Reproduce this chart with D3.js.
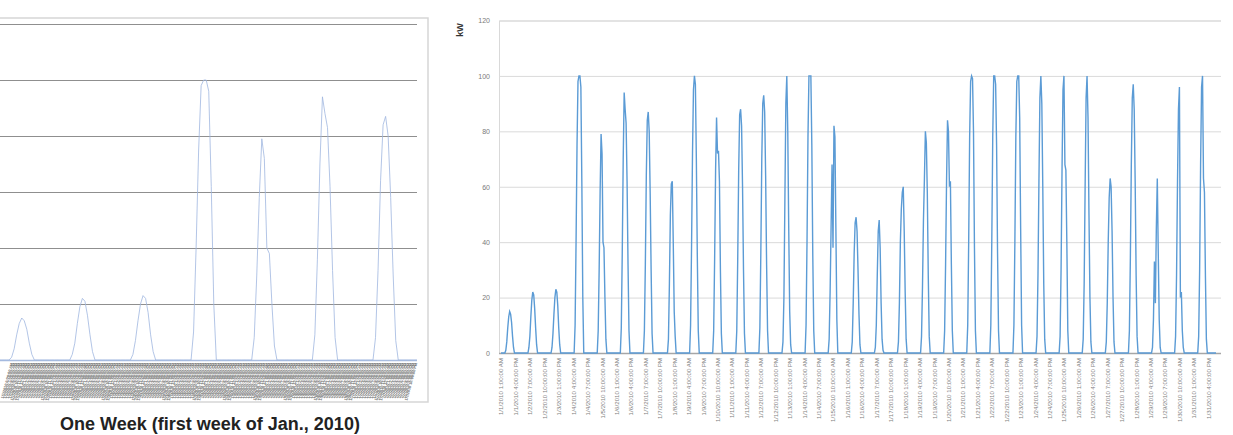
<html>
<head>
  <meta charset="UTF-8">
  <title>Solar output, January 2010</title>
  <script src="https://cdnjs.cloudflare.com/ajax/libs/d3/7.8.5/d3.min.js"></script>
</head>
<style>
body { margin: 0; background: #fff; }
text { font-family: 'Liberation Sans', Arial, sans-serif; }
</style>
<body>
<script>

// hourly output for each day of Jan 2010, daylight hours only
// (first value of each row sits at hour index day*24 + daylightOffset, night hours are 0)
var dayCurves = [
  [0, 1, 4, 9, 13, 15, 14, 11, 6, 2, 0],
  [0, 2, 6, 13, 19, 22, 21, 16, 9, 3, 0],
  [0, 2, 7, 14, 20, 23, 22, 17, 9, 3, 0],
  [0, 10, 40, 75, 98, 100, 100, 96, 62, 20, 0],
  [0, 8, 30, 58, 79, 72, 40, 38, 20, 5, 0],
  [0, 9, 36, 70, 94, 88, 83, 62, 32, 8, 0],
  [0, 8, 32, 64, 84, 87, 80, 58, 30, 7, 0],
  [0, 0, 5, 25, 50, 61, 62, 40, 15, 6, 0],
  [0, 10, 38, 72, 95, 100, 97, 70, 35, 8, 0],
  [0, 8, 34, 66, 85, 72, 73, 62, 30, 7, 0],
  [0, 8, 34, 66, 86, 88, 82, 60, 30, 7, 0],
  [0, 9, 36, 70, 90, 93, 87, 64, 32, 8, 0],
  [0, 4, 20, 55, 90, 100, 80, 45, 15, 3, 0],
  [0, 10, 40, 78, 100, 100, 100, 75, 35, 8, 0],
  [0, 5, 22, 45, 68, 38, 82, 78, 45, 12, 0],
  [0, 4, 18, 36, 47, 49, 44, 30, 14, 3, 0],
  [0, 2, 10, 28, 44, 48, 38, 18, 5, 1, 0],
  [0, 4, 18, 40, 52, 58, 60, 44, 22, 5, 0],
  [0, 6, 24, 48, 63, 80, 76, 58, 28, 6, 0],
  [0, 8, 32, 62, 84, 80, 60, 62, 32, 8, 0],
  [0, 10, 40, 78, 98, 100, 99, 80, 38, 8, 0],
  [0, 10, 40, 78, 100, 100, 97, 75, 36, 8, 0],
  [0, 10, 40, 78, 98, 100, 100, 85, 45, 10, 0],
  [0, 6, 28, 62, 92, 100, 90, 60, 25, 5, 0],
  [0, 6, 30, 66, 95, 100, 68, 66, 40, 8, 0],
  [0, 5, 25, 60, 92, 100, 85, 50, 20, 4, 0],
  [0, 4, 18, 40, 56, 63, 60, 44, 20, 4, 0],
  [0, 8, 34, 68, 92, 97, 88, 62, 28, 6, 0],
  [0, 2, 12, 33, 18, 45, 63, 36, 12, 2, 0],
  [0, 6, 28, 62, 88, 96, 20, 22, 8, 2, 0],
  [0, 6, 30, 68, 96, 100, 63, 58, 28, 5, 0]
];
var daylightOffset = 4;
var hoursInMonth = 744;
var weekHours = 168;
var firstHour = new Date(2010, 0, 1, 1);   // 1/1/2010 1:00:00 AM
var labelEvery = 15;
var yTicks = [0, 20, 40, 60, 80, 100, 120];
var yTitle = 'kW';
var weekTitle = 'One Week (first week of Jan., 2010)';

// build hourly series
var hourly = d3.range(hoursInMonth).map(function(){ return 0; });
dayCurves.forEach(function(row, d){
  row.forEach(function(v, k){ hourly[d * 24 + daylightOffset + k] = v; });
});
var series = hourly.map(function(v, i){ return {i: i, v: v}; });

var fmt = d3.timeFormat('%-m/%-d/%Y %-I:%M:%S %p');
function hourLabel(i){ return fmt(d3.timeHour.offset(firstHour, i)); }

var width = 1233,
    height = 435;

var svg = d3.select('body')
  .append('svg')
  .attr('width', width)
  .attr('height', height);

// ---------- left: one week ----------
var gl = svg.append('g');

var xL = d3.scaleLinear().domain([0, weekHours - 1]).range([-1, 421]);
var yL = d3.scaleLinear().domain([0, 120]).range([360, 24]);

gl.append('rect')
  .attr('x', -5).attr('y', 18)
  .attr('width', 433).attr('height', 384)
  .attr('fill', 'none')
  .attr('stroke', '#d6d6d6')
  .attr('stroke-width', 1.5);

var gridL = gl.append('g')
  .call(d3.axisLeft(yL).tickValues(yTicks).tickSize(-417).tickFormat(''));
gridL.select('.domain').remove();
gridL.selectAll('.tick line')
  .attr('stroke', function(d){ return d === 0 ? '#a9bde0' : '#8f8f8f'; })
  .attr('stroke-width', function(d){ return d === 0 ? 1.5 : 1.1; });

// the hourly labels are packed so tight they read as a grey band;
// only the ones that fit inside the box are drawn
var weekLabelHours = d3.range(0, weekHours).filter(function(i){
  return xL(i) >= 10 && xL(i) <= 417;
});
var xAxisL = gl.append('g')
  .attr('transform', 'translate(0,' + 362 + ')')
  .call(d3.axisBottom(xL).tickValues(weekLabelHours).tickSize(0).tickFormat(hourLabel));
xAxisL.select('.domain').remove();
xAxisL.selectAll('text')
  .attr('transform', 'rotate(-75)')
  .attr('text-anchor', 'end')
  .attr('x', -1).attr('y', 0).attr('dy', '0.3em')
  .attr('font-size', 3.9)
  .attr('font-weight', 'bold')
  .attr('fill', '#6a6a6a');

gl.append('clipPath').attr('id', 'clipL')
  .append('rect').attr('x', 0).attr('y', 0).attr('width', 417).attr('height', 370);

gl.append('path')
  .datum(series.slice(0, weekHours))
  .attr('clip-path', 'url(#clipL)')
  .attr('fill', 'none')
  .attr('stroke', '#9fb6e0')
  .attr('stroke-width', 0.8)
  .attr('d', d3.line().x(function(d){ return xL(d.i); }).y(function(d){ return yL(d.v); }));

gl.append('text')
  .attr('x', 210).attr('y', 430)
  .attr('text-anchor', 'middle')
  .attr('font-size', 18)
  .attr('font-weight', 'bold')
  .attr('fill', '#222')
  .text(weekTitle);

// ---------- right: whole month ----------
var gr = svg.append('g');

var xR = d3.scaleLinear().domain([0, hoursInMonth - 1]).range([501, 1216]);
var yR = d3.scaleLinear().domain([0, 120]).range([353, 20.5]);

var gridR = gr.append('g')
  .attr('transform', 'translate(499,0)')
  .call(d3.axisLeft(yR).tickValues(yTicks).tickSize(-722).tickPadding(9));
gridR.select('.domain').attr('stroke', '#d9d9d9');
gridR.selectAll('.tick line')
  .attr('stroke', function(d){ return d === 0 ? '#a6a6a6' : '#dadada'; })
  .attr('stroke-width', function(d){ return d === 0 ? 1.6 : 1; });
gridR.selectAll('text')
  .attr('font-size', 7)
  .attr('fill', '#7a7a7a');

var xAxisR = gr.append('g')
  .attr('transform', 'translate(0,' + 353 + ')')
  .call(d3.axisBottom(xR).tickValues(d3.range(0, hoursInMonth, labelEvery)).tickSize(0).tickFormat(hourLabel));
xAxisR.select('.domain').remove();
xAxisR.selectAll('text')
  .attr('transform', 'rotate(-90)')
  .attr('text-anchor', 'end')
  .attr('x', -5).attr('y', 0).attr('dy', '0.32em')
  .attr('font-size', 6.2)
  .attr('fill', '#7f7f7f');

gr.append('path')
  .datum(series)
  .attr('fill', 'none')
  .attr('stroke', '#5b9bd5')
  .attr('stroke-width', 1.4)
  .attr('d', d3.line().x(function(d){ return xR(d.i); }).y(function(d){ return yR(d.v); }));

gr.append('text')
  .attr('transform', 'translate(463,30) rotate(-90)')
  .attr('text-anchor', 'middle')
  .attr('font-size', 9)
  .attr('font-weight', 'bold')
  .attr('fill', '#333')
  .text(yTitle);

</script>
</body>
</html>
